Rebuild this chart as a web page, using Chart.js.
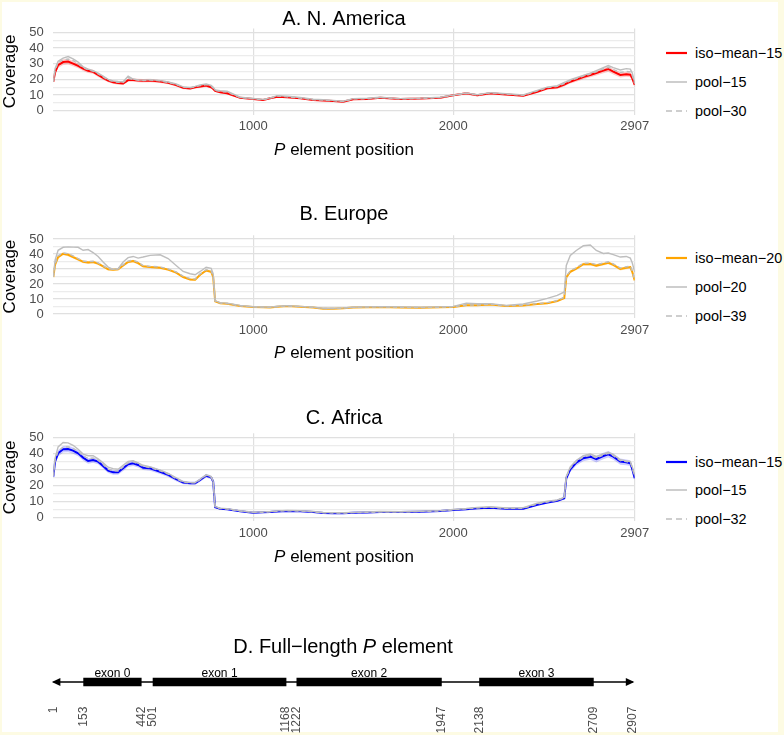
<!DOCTYPE html>
<html>
<head>
<meta charset="utf-8">
<script src="https://cdn.jsdelivr.net/npm/chart.js@4.4.1/dist/chart.umd.min.js"></script>
<style>
  html, body { margin: 0; padding: 0; }
  body {
    width: 784px; height: 735px; position: relative; overflow: hidden;
    background: #fdfbe3;
    font-family: "Liberation Sans", Arial, Helvetica, sans-serif;
  }
  #sheet { position: absolute; left: 2px; top: 2px; width: 776px; height: 730px; background: #fff; }
  canvas { position: absolute; left: 0; }
  .legend-item { position: absolute; left: 666px; height: 20px; font-size: 14.4px; line-height: 20px; white-space: nowrap; color: #000; }
  .legend-item svg { position: absolute; left: 0; top: 7px; }
  .legend-item span { position: absolute; left: 29px; top: 0; }
</style>
</head>
<body>
<div id="sheet"></div>
<canvas id="chart-a" width="660" height="175" style="top:0px"></canvas>
<canvas id="chart-b" width="660" height="175" style="top:195px"></canvas>
<canvas id="chart-c" width="660" height="175" style="top:395px"></canvas>
<canvas id="chart-d" width="660" height="135" style="top:600px"></canvas>
<div id="legends"></div>

<script>
/* ── Data ─────────────────────────────────────────────────────── */

const positions = [1, 10, 25, 50, 75, 100, 125, 150, 175, 200, 225, 250, 275, 300, 325, 350, 375, 400, 425, 450,
  485, 535, 575, 615, 650, 685, 710, 735, 765, 790, 800, 810, 835, 870, 935, 1000, 1050, 1085, 1120, 1170,
  1235, 1300, 1350, 1400, 1450, 1500, 1570, 1635, 1735, 1835, 1935, 2000, 2065, 2120, 2185, 2265, 2350, 2420, 2470, 2520,
  2555, 2565, 2585, 2615, 2650, 2685, 2715, 2750, 2775, 2800, 2835, 2865, 2885, 2895, 2907];

const xTicks = [1000, 2000, 2907];
const yTicks = [0, 5, 10, 15, 20, 25, 30, 35, 40, 45, 50];

// A. N. America
const naIsoMean15 = [18.5, 24.5, 29, 31, 31.3, 30, 28.6, 26.8, 25.5, 24.8, 22.8, 21, 19.2, 18.2, 17.6, 17.4, 19.5, 19.6, 19.3, 19.1,
  19.3, 18.6, 17.8, 16.3, 14.6, 14.2, 14.9, 15.4, 16, 15, 14, 12.6, 11.8, 11.1, 8.2, 7.4, 6.8, 7.9, 8.9, 8.5,
  7.9, 6.8, 6.5, 6.2, 5.7, 7.3, 7.4, 8.3, 7.4, 7.7, 8.3, 9.8, 11.1, 9.8, 11.1, 10.4, 9.6, 12.1, 14.3, 14.9,
  16.6, 17.3, 18.5, 19.8, 21.5, 22.8, 24, 25.6, 26.6, 24.9, 22.8, 23.2, 23, 20.6, 16.4];
const naIsoSpread = [0.8, 1.5, 1.8, 1.8, 1.8, 1.7, 1.6, 1.5, 1.4, 1.3, 1.3, 1.2, 1.1, 1, 1, 1, 1.1, 1.1, 1.1, 1.1,
  1.1, 1, 1, 0.9, 0.9, 0.8, 0.8, 0.9, 0.9, 0.9, 0.8, 0.7, 0.7, 0.7, 0.6, 0.5, 0.5, 0.5, 0.6, 0.6,
  0.5, 0.5, 0.5, 0.5, 0.5, 0.5, 0.5, 0.6, 0.5, 0.5, 0.6, 0.6, 0.7, 0.7, 0.7, 0.7, 0.7, 0.8, 0.9, 1,
  1.1, 1.1, 1.2, 1.3, 1.4, 1.5, 1.6, 1.7, 1.8, 1.8, 1.7, 1.6, 1.6, 1.5, 1.3];
const naPool15 = [18.5, 27, 31.5, 33.5, 34.5, 33, 31, 28, 26.5, 25.5, 24, 22, 20, 19, 18.6, 18.5, 22, 20.2, 19.6, 19.5,
  19.8, 19.2, 18.3, 17, 15.2, 14.8, 15.5, 16.5, 17, 16.2, 15, 13.2, 12.8, 12.4, 8.6, 7.8, 7.2, 8.2, 9.6, 9.2,
  8.4, 7.3, 7, 6.6, 6, 7.7, 7.9, 8.6, 7.7, 8, 8.6, 9.9, 11.3, 10.2, 11.5, 10.8, 10, 13, 15, 16,
  18, 18.5, 19.8, 21, 22.5, 24, 25.5, 27.5, 28.8, 27.5, 26, 26.8, 26.5, 24, 18];
const naPool30 = [18.5, 26, 30.5, 32.5, 33, 32, 30, 27.5, 26, 25.2, 23.5, 21.5, 19.6, 18.6, 18.1, 18, 20.5, 20, 19.5, 19.3,
  19.6, 19, 18, 16.7, 15, 14.5, 15.2, 16, 16.6, 15.6, 14.5, 13, 12.3, 11.8, 8.4, 7.6, 7, 8, 9.3, 8.8,
  8.1, 7, 6.8, 6.4, 5.9, 7.5, 7.6, 8.4, 7.5, 7.8, 8.4, 9.8, 11.2, 10, 11.3, 10.6, 9.8, 12.6, 14.7, 15.5,
  17.3, 17.9, 19.2, 20.5, 22, 23.4, 24.8, 26.6, 27.7, 26.2, 24.4, 25, 24.8, 22.3, 17.2];

// B. Europe
const euIsoMean20 = [24.7, 33, 38, 40.2, 39.5, 38, 36.4, 34.8, 34.3, 34.7, 33.6, 31.8, 29.8, 29.6, 29.8, 32.4, 34.7, 35.3, 34, 31.8,
  31.3, 30.9, 29.6, 27.6, 24.7, 23.1, 22.9, 26.2, 29, 28.2, 24.7, 8.5, 7.2, 6.9, 5.3, 4.7, 4.5, 4.4, 4.8, 5.3,
  4.9, 4.4, 3.6, 3.6, 3.8, 4.4, 4.6, 4.7, 4.4, 4.2, 4.5, 4.7, 5.8, 5.8, 6.4, 5.3, 5.7, 6.7, 7.2, 8.6,
  10.7, 24.5, 28.2, 30.2, 33.2, 33.3, 32.3, 33.3, 34.2, 32.8, 30, 30.8, 31.3, 28, 22.4];
const euIsoSpread = [0.6, 0.9, 1, 1, 1, 1, 0.9, 0.9, 0.9, 0.9, 0.9, 0.8, 0.8, 0.8, 0.8, 0.8, 0.9, 0.9, 0.9, 0.8,
  0.8, 0.8, 0.8, 0.7, 0.7, 0.7, 0.7, 0.7, 0.8, 0.8, 0.7, 0.3, 0.3, 0.3, 0.3, 0.3, 0.3, 0.3, 0.3, 0.3,
  0.3, 0.3, 0.3, 0.3, 0.3, 0.3, 0.3, 0.3, 0.3, 0.3, 0.3, 0.3, 0.3, 0.3, 0.3, 0.3, 0.3, 0.3, 0.4, 0.4,
  0.4, 0.8, 0.9, 0.9, 1, 1, 1, 1, 1, 1, 0.9, 0.9, 0.9, 0.8, 0.7];
const euPool20 = [25, 36, 42.5, 44.5, 44.8, 44.6, 44.5, 42.5, 43, 41, 38.4, 34.7, 31.3, 29.8, 30.2, 34.7, 37.6, 38.4, 37.3, 38,
  39.1, 39.5, 37, 32.4, 28.4, 26.9, 26.2, 28.4, 31.2, 30.5, 27, 8.8, 7.6, 7.3, 5.8, 4.9, 4.7, 4.6, 5.2, 5.6,
  5.1, 4.6, 3.9, 3.9, 4.1, 4.5, 4.8, 4.9, 4.8, 4.6, 4.8, 5.1, 7.3, 6.9, 6.9, 5.8, 6.7, 8.7, 10.4, 12.4,
  14.7, 32.4, 39.1, 42.4, 45.5, 46, 42.4, 40.4, 40.7, 39.6, 38, 38.4, 37.3, 34, 28];
const euPool39 = [24.8, 33.5, 38.8, 40.8, 40.2, 38.8, 37, 35.4, 34.9, 35.2, 34.1, 32.3, 30.2, 29.9, 30.1, 32.9, 35.3, 35.9, 34.6, 32.3,
  31.8, 31.4, 30.1, 28.1, 25.3, 23.6, 23.4, 26.8, 29.6, 28.8, 25.2, 8.6, 7.3, 7, 5.4, 4.8, 4.6, 4.5, 4.9, 5.4,
  5, 4.5, 3.7, 3.7, 3.9, 4.5, 4.7, 4.8, 4.5, 4.3, 4.6, 4.8, 6, 6, 6.6, 5.5, 5.9, 7, 7.6, 9,
  11.2, 25.2, 28.9, 30.9, 33.9, 34, 33, 34, 34.9, 33.4, 30.7, 31.5, 31.9, 28.6, 22.8];

// C. Africa
const afIsoMean15 = [25.4, 35, 40, 42.5, 42.7, 41.7, 40, 37.3, 35.2, 35.8, 34.8, 32.1, 29.2, 28.1, 28.1, 30.6, 33.1, 33.8, 32.7, 31,
  30.6, 28.5, 26.5, 23.8, 21.7, 21.3, 21.3, 23.3, 26, 25, 22.3, 6.3, 5.4, 5.1, 3.8, 2.9, 3.1, 3.3, 3.6, 4,
  3.8, 3.3, 2.7, 2.6, 2.5, 2.8, 3, 3.3, 3.3, 3.5, 3.9, 4.6, 5.1, 5.6, 6, 5.4, 5.4, 7.8, 9.2, 10.4,
  11.9, 24.4, 30, 34.2, 36.9, 37.9, 36.3, 38.3, 39.4, 37.9, 34.8, 34.4, 33.8, 30, 24.4];
const afIsoSpread = [1, 1.8, 2, 2, 2, 2, 1.9, 1.8, 1.7, 1.7, 1.7, 1.6, 1.5, 1.5, 1.5, 1.6, 1.7, 1.7, 1.6, 1.5,
  1.5, 1.4, 1.3, 1.2, 1.1, 1, 1, 1.1, 1.2, 1.2, 1.1, 0.5, 0.5, 0.5, 0.4, 0.4, 0.4, 0.4, 0.4, 0.4,
  0.4, 0.4, 0.4, 0.4, 0.4, 0.4, 0.4, 0.4, 0.4, 0.4, 0.4, 0.5, 0.5, 0.5, 0.5, 0.5, 0.5, 0.7, 0.8, 0.8,
  0.9, 1.5, 1.7, 1.8, 1.9, 2, 2, 2, 2, 2, 1.9, 1.8, 1.8, 1.6, 1.3];
const afPool15 = [26, 37, 44, 46.7, 46.5, 45, 42.5, 39.5, 38.5, 38.5, 36.5, 34, 31.3, 30.4, 30, 32.5, 35, 35.4, 34, 32.5,
  31.5, 29.5, 27.5, 24.7, 22.3, 21.7, 21.7, 23.8, 26.5, 25.4, 22.5, 6.6, 5.7, 5.4, 4.1, 3.2, 3.4, 3.6, 4, 4.3,
  4.1, 3.6, 3, 2.9, 2.8, 3.1, 3.3, 3.6, 3.5, 3.8, 4.2, 4.9, 5.5, 6.2, 6.6, 5.8, 6, 8.8, 10, 10.8,
  12.5, 25.5, 31.5, 35.5, 38.5, 39.5, 38, 39.5, 40.6, 39.2, 36, 35.3, 34.8, 31.5, 26];
const afPool32 = [25.6, 35.8, 41.2, 43.8, 44, 43, 41.2, 38.3, 36.8, 37, 35.6, 33, 30.1, 29.1, 28.9, 31.4, 34, 34.6, 33.4, 31.8,
  31, 29, 27, 24.2, 22, 21.5, 21.5, 23.6, 26.3, 25.2, 22.4, 6.4, 5.5, 5.2, 3.9, 3, 3.2, 3.4, 3.7, 4.1,
  3.9, 3.4, 2.8, 2.7, 2.6, 2.9, 3.1, 3.4, 3.4, 3.6, 4, 4.7, 5.3, 5.8, 6.3, 5.6, 5.7, 8.3, 9.6, 10.6,
  12.2, 25, 30.8, 34.8, 37.7, 38.7, 37.1, 38.9, 40, 38.5, 35.4, 34.8, 34.3, 30.8, 25.2];

// D. Full-length P element
const exonNames  = ['exon 0', 'exon 1', 'exon 2', 'exon 3'];
const exonStarts = [153, 501, 1222, 2138];
const exonEnds   = [442, 1168, 1947, 2709];
const geneTicks  = [1, 153, 442, 501, 1168, 1222, 1947, 2138, 2709, 2907];

/* ── Helpers ──────────────────────────────────────────────────── */

const FONT = '"Liberation Sans", Arial, Helvetica, sans-serif';
const GREY = '#bebebe';
const AREA_LEFT = 53.3;
const AREA_RIGHT = 634.7;

const toPoints = vals => positions.map((p, i) => ({ x: p, y: vals[i] }));
const toBand = (vals, spread, sign) => positions.map((p, i) => ({ x: p, y: vals[i] + sign * spread[i] }));

function drawRuns(ctx, runs, cx, y, size) {
  const fonts = runs.map(([, italic]) => `${italic ? 'italic ' : ''}${size}px ${FONT}`);
  const widths = runs.map(([text], i) => { ctx.font = fonts[i]; return ctx.measureText(text).width; });
  let x = cx - widths.reduce((a, b) => a + b, 0) / 2;
  ctx.textAlign = 'left';
  runs.forEach(([text], i) => { ctx.font = fonts[i]; ctx.fillText(text, x, y); x += widths[i]; });
}

// titles with italic runs, centred on the plot area
const panelText = {
  id: 'panelText',
  afterDraw(chart, args, opts) {
    const { ctx, chartArea } = chart;
    const cx = (chartArea.left + chartArea.right) / 2;
    ctx.save();
    ctx.fillStyle = '#000';
    ctx.textBaseline = 'alphabetic';
    if (opts.title) drawRuns(ctx, opts.title, cx, opts.titleY, 20);
    if (opts.xTitle) drawRuns(ctx, opts.xTitle, cx, chartArea.bottom + opts.xTitleGap, 17);
    ctx.restore();
  }
};

/* ── Coverage panels ──────────────────────────────────────────── */

const panels = [
  { id: 'chart-a', top: 0, areaTop: 28.4, areaBottom: 114.6, titleBaseline: 25, title: 'A. N. America',
    color: '#ff0000', band: 'rgba(255,0,0,0.2)', mean: naIsoMean15, spread: naIsoSpread, pools: [naPool15, naPool30],
    labels: ['iso−mean−15', 'pool−15', 'pool−30'], legendTop: 53.3 },
  { id: 'chart-b', top: 195, areaTop: 235.3, areaBottom: 317.8, titleBaseline: 220, title: 'B. Europe',
    color: '#ffa500', band: 'rgba(255,165,0,0.25)', mean: euIsoMean20, spread: euIsoSpread, pools: [euPool20, euPool39],
    labels: ['iso−mean−20', 'pool−20', 'pool−39'], legendTop: 258.3 },
  { id: 'chart-c', top: 395, areaTop: 433.3, areaBottom: 521.3, titleBaseline: 424, title: 'C. Africa',
    color: '#0000ff', band: 'rgba(0,0,255,0.2)', mean: afIsoMean15, spread: afIsoSpread, pools: [afPool15, afPool32],
    labels: ['iso−mean−15', 'pool−15', 'pool−32'], legendTop: 461.7 },
];

panels.forEach(p => {
  const canvas = document.getElementById(p.id);
  const padTop = p.areaTop - p.top;
  const xAxisHeight = canvas.height - (p.areaBottom - p.top);

  new Chart(canvas, {
    type: 'line',
    data: {
      datasets: [
        { data: toBand(p.mean, p.spread, 1), borderWidth: 0, pointRadius: 0, fill: false, order: 3 },
        { data: toBand(p.mean, p.spread, -1), borderWidth: 0, pointRadius: 0, fill: '-1', backgroundColor: p.band, order: 3 },
        { data: toPoints(p.mean), borderColor: p.color, borderWidth: 2, pointRadius: 0, order: 2 },
        { data: toPoints(p.pools[0]), borderColor: GREY, borderWidth: 1.4, pointRadius: 0, order: 1 },
        { data: toPoints(p.pools[1]), borderColor: GREY, borderWidth: 1.4, borderDash: [4, 3], pointRadius: 0, order: 0 },
      ],
    },
    options: {
      responsive: false,
      animation: false,
      events: [],
      layout: { padding: { top: padTop, left: 0, right: canvas.width - AREA_RIGHT, bottom: 0 } },
      plugins: {
        legend: { display: false },
        tooltip: { enabled: false },
        panelText: {
          title: [[p.title, false]],
          titleY: p.titleBaseline - p.top,
          xTitle: [['P', true], [' element position', false]],
          xTitleGap: 40.5,
        },
      },
      scales: {
        x: {
          type: 'linear', min: 1, max: 2907,
          afterBuildTicks: ax => { ax.ticks = xTicks.map(v => ({ value: v })); },
          afterFit: ax => { ax.height = xAxisHeight; },
          grid: { color: '#e0e0e0', lineWidth: 1.2, drawTicks: false },
          border: { display: false },
          ticks: { color: '#4d4d4d', font: { family: FONT, size: 13 }, padding: 4.5, maxRotation: 0, autoSkip: false,
                   callback: v => String(v) },
        },
        y: {
          type: 'linear', min: -2.5, max: 52.5,
          afterBuildTicks: ax => { ax.ticks = yTicks.map(v => ({ value: v })); },
          afterFit: ax => { ax.width = AREA_LEFT; },
          grid: { color: c => (c.tick.value % 10 === 0 ? '#e0e0e0' : '#ececec'), lineWidth: 1.2, drawTicks: false },
          border: { display: false },
          ticks: { color: '#4d4d4d', font: { family: FONT, size: 13 }, padding: 9.5, autoSkip: false,
                   callback: v => (v % 10 === 0 ? String(v) : '') },
          title: { display: true, text: 'Coverage', color: '#000', font: { family: FONT, size: 17 }, padding: { top: 0.4, bottom: 0 } },
        },
      },
    },
    plugins: [panelText],
  });

  // legend beside the panel
  const legends = document.getElementById('legends');
  p.labels.forEach((label, i) => {
    const item = document.createElement('div');
    item.className = 'legend-item';
    item.style.top = `${p.legendTop + i * 28.7 - 10}px`;
    const stroke = i === 0 ? p.color : GREY;
    const width = i === 0 ? 2.2 : 1.5;
    const dash = i === 2 ? ' stroke-dasharray="6 4"' : '';
    item.innerHTML = `<svg width="22" height="6"><line x1="0" y1="3" x2="21" y2="3" stroke="${stroke}" stroke-width="${width}"${dash}/></svg><span>${label}</span>`;
    legends.appendChild(item);
  });
});

/* ── Gene model ───────────────────────────────────────────────── */

const geneMarks = {
  id: 'geneMarks',
  afterDatasetsDraw(chart) {
    const { ctx } = chart;
    const bars = chart.getDatasetMeta(0).data;
    const line = chart.getDatasetMeta(1).data;
    ctx.save();
    ctx.fillStyle = '#000';
    [[line[0], -1], [line[line.length - 1], 1]].forEach(([pt, dir]) => {
      const tip = pt.x + dir * 1.4;
      ctx.beginPath();
      ctx.moveTo(tip, pt.y);
      ctx.lineTo(tip - dir * 8.5, pt.y - 3.9);
      ctx.lineTo(tip - dir * 8.5, pt.y + 3.9);
      ctx.closePath();
      ctx.fill();
    });
    ctx.font = `12px ${FONT}`;
    ctx.textAlign = 'center';
    ctx.textBaseline = 'alphabetic';
    bars.forEach((bar, i) => ctx.fillText(exonNames[i], (bar.x + bar.base) / 2, bar.y - 5.5));
    ctx.restore();
  }
};

const geneCanvas = document.getElementById('chart-d');
new Chart(geneCanvas, {
  type: 'bar',
  data: {
    labels: ['P'],
    datasets: [
      { data: exonStarts.map((s, i) => ({ x: [s, exonEnds[i]], y: 'P' })), backgroundColor: '#000',
        borderWidth: 0, barThickness: 8, order: 0 },
      { type: 'line', data: [{ x: geneTicks[0], y: 'P' }, { x: geneTicks[geneTicks.length - 1], y: 'P' }],
        borderColor: '#000', borderWidth: 1.4, pointRadius: 0, order: 1 },
    ],
  },
  options: {
    indexAxis: 'y',
    responsive: false,
    animation: false,
    events: [],
    layout: { padding: { top: 70, left: AREA_LEFT, right: geneCanvas.width - AREA_RIGHT, bottom: 0 } },
    plugins: {
      legend: { display: false },
      tooltip: { enabled: false },
      panelText: { title: [['D. Full−length ', false], ['P', true], [' element', false]], titleY: 52.7 },
    },
    scales: {
      x: {
        type: 'linear', min: 1, max: 2907,
        afterBuildTicks: ax => { ax.ticks = geneTicks.map(v => ({ value: v })); },
        afterFit: ax => { ax.height = geneCanvas.height - 94; },
        grid: { display: false, drawTicks: false },
        border: { display: false },
        ticks: { color: '#4d4d4d', font: { family: FONT, size: 12 }, padding: 12.7, minRotation: 90, maxRotation: 90,
                 autoSkip: false, callback: v => String(v) },
      },
      y: { display: false },
    },
  },
  plugins: [panelText, geneMarks],
});
</script>
</body>
</html>
